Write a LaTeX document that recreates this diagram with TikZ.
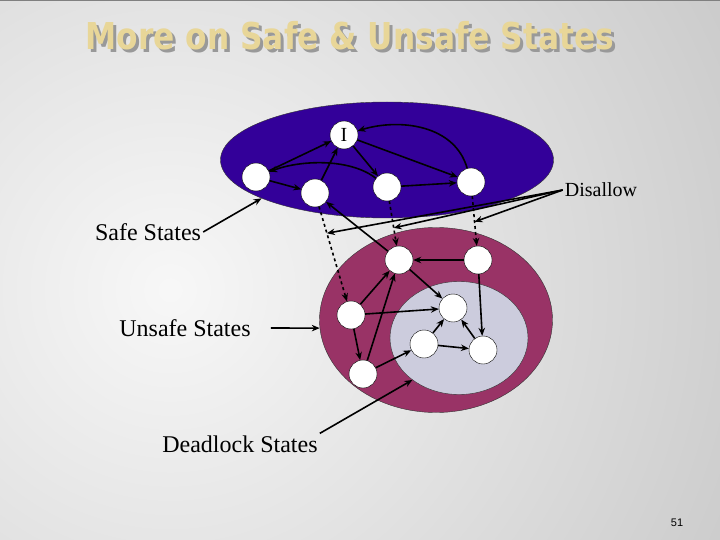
\documentclass[tikz,border=0pt]{standalone}
\usepackage[rgb]{xcolor}
\usepackage{fontspec}
\setmainfont{Liberation Serif}
\newfontfamily\titlefont{DejaVu Sans}
\newfontfamily\numfont{Liberation Sans}
\usepackage{tikz}
\usetikzlibrary{arrows.meta,shapes.geometric,calc}

\definecolor{safeblue}{RGB}{51,0,153}
\definecolor{unsafered}{RGB}{153,51,102}
\definecolor{deadgray}{RGB}{204,204,221}
\definecolor{titlegold}{RGB}{232,214,152}

\tikzset{
  state/.style = {circle, draw=black, fill=white, minimum size=28pt,
                  inner sep=0pt, font=\fontsize{20}{20}\selectfont},
  edge/.style = {->, line width=1.6pt},
  region/.style = {ellipse, draw=black!80, inner sep=0pt},
  label/.style = {inner sep=2pt, font=\fontsize{24}{24}\selectfont}
}

\begin{document}
\begin{tikzpicture}[x=1pt, y=-1pt, >={Stealth[length=8pt,width=6.5pt]}]

% background of the slide
\useasboundingbox (0,0) rectangle (720,540);
\begin{scope}
 \clip (0,0) rectangle (720,540);
 \shade[inner color=black!3, outer color=black!34] (170,290) circle (1120);
\end{scope}
\draw[black!50, line width=1.5pt] (0,0.75) -- (720,0.75);

%% title with its shadow
\node[font=\titlefont\bfseries\fontsize{37}{37}\selectfont, xscale=0.845,
      text=black!40] (titleshadow) at (353,39) {More on Safe \& Unsafe States};
\node[font=\titlefont\bfseries\fontsize{37}{37}\selectfont, xscale=0.845,
      text=titlegold] (title) at (350,36) {More on Safe \& Unsafe States};

%% the three regions
\node[region, fill=safeblue, minimum width=333pt, minimum height=116pt]
  (safe) at (387,160) {};
\node[region, fill=unsafered, minimum width=233pt, minimum height=185pt]
  (unsafe) at (436,320) {};
\node[region, fill=deadgray, minimum width=138pt, minimum height=113pt]
  (dead) at (459,338) {};

%% states
\path
(344,135) node[state] (init) {I}
(256,177) node[state] (sa) {}
(315,193) node[state] (sb) {}
(387,187) node[state] (sc) {}
(471,182) node[state] (sd) {}
(399,260) node[state] (ua) {}
(478,260) node[state] (ub) {}
(351,315) node[state] (uc) {}
(363,374) node[state] (ud) {}
(453,308) node[state] (da) {}
(424,344) node[state] (db) {}
(483,350) node[state] (dc) {};

% straight moves
\foreach \a/\b in {sa/init, sa/sb, sb/init, init/sc, init/sd, sc/sd,
                   ub/ua, ua/da, uc/ua, uc/da, uc/ud, ud/ua, ud/db,
                   db/da, db/dc, dc/da, ub/dc, ua/sb}
  \draw[edge] (\a) -- (\b);

% curved moves
\draw[edge] (sc) .. controls (350,158) and (300,160) .. (sa);
\draw[edge] (sd) .. controls (455,125) and (400,118) .. (init);

% moves into unsafe states
\draw[edge, dashed] (sb) -- (uc);
\draw[edge, dashed] (sc) -- (ua);
\draw[edge, dashed] (sd) -- (ub);

%% labels
\node[inner sep=2pt, font=\fontsize{20}{20}\selectfont] (disallow) at (601,190) {Disallow};
\node[label] (safetext) at (148,232) {Safe States};
\node[label] (unsafetext) at (185,328) {Unsafe States};
\node[label] (deadtext) at (240,444) {Deadlock States};

\coordinate (cutb) at ($(sb)!0.33!(uc)$);
\coordinate (cutc) at ($(sc)!0.56!(ua)$);
\coordinate (cutd) at ($(sd)!0.51!(ub)$);
\foreach \c in {cutb, cutc, cutd}
  \draw[edge] (disallow.west) -- (\c);

\draw[edge] (safetext.east) -- (safe.197);
\draw[edge] ([xshift=18pt]unsafetext.east) -- (unsafe.184);
\draw[edge] (deadtext.north east) -- (dead.222);

% slide number
\node[font=\numfont\fontsize{11}{11}\selectfont] (pagenum) at (677,523) {51};

\end{tikzpicture}
\end{document}
